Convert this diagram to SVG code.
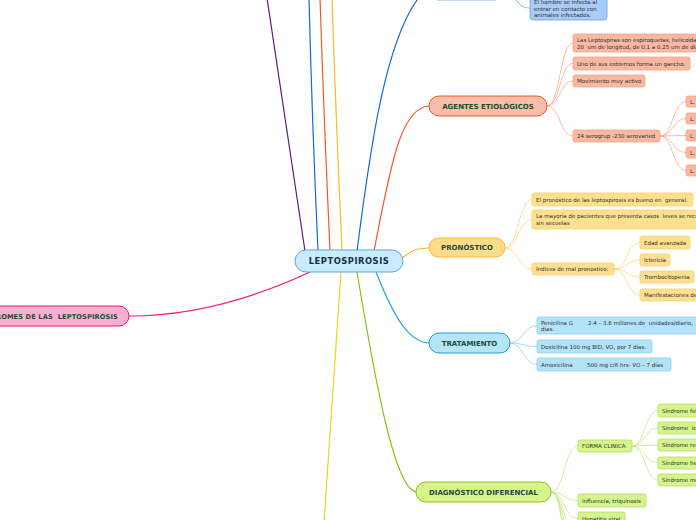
<svg xmlns="http://www.w3.org/2000/svg" width="696" height="520" viewBox="0 0 696 520">
<style>
text{font-family:"DejaVu Sans","Liberation Sans",sans-serif;white-space:pre}
.t{font-size:5.5px;fill:#2e2e2e}
.h{font-size:7px;font-weight:bold;fill:#1d4a33}
.c path{fill:none;stroke-width:1.2}
.s path{fill:none;stroke-width:0.8}
.r{fill:#f8b9a2;stroke:#f7a283;stroke-width:0.8}
.y{fill:#fde08f;stroke:#fccf70;stroke-width:0.8}
.b{fill:#b3e3f8;stroke:#8ed2f1;stroke-width:0.8}
.g{fill:#d4f48c;stroke:#b7de5e;stroke-width:0.8}
.bb{fill:#a9cbf7;stroke:#6d9fea;stroke-width:0.8}
</style>
<rect width="696" height="520" fill="#fff"/>
<g id="connectors">
 <g class="c">
  <path d="M305,251 Q285,120 267,-2" stroke="#5a1f7f"/>
  <path d="M318,251 Q312,120 309,-2" stroke="#1668d8"/>
  <path d="M330,251 Q324,120 320,-2" stroke="#f05a28"/>
  <path d="M342,251 Q336,120 332,-2" stroke="#fbb829"/>
  <path d="M357,251 C370,150 385,40 420,-4" stroke="#1668d8"/>
  <path d="M374,251 C390,170 400,106 430,106" stroke="#f05a28"/>
  <path d="M402,258 C412,250 418,248 430,248" stroke="#fbb829"/>
  <path d="M376,272 C395,320 410,343 430,343" stroke="#1aa3e0"/>
  <path d="M357,272 C375,380 395,492 417,492" stroke="#8bbf1a"/>
  <path d="M341,272 Q332,400 324,522" stroke="#e6d51b"/>
  <path d="M310,272 C250,300 190,316 129,316" stroke="#ee1a73"/>
  <path d="M512,-8 C518,5 522,8 530,8" stroke="#a9cbf7" stroke-width="0.8"/>
 </g>
 <g class="s">
  <g stroke="#f9ab90">
   <path d="M547,106 C560,106 560,43 573,43"/>
   <path d="M547,106 C560,106 560,63.5 573,63.5"/>
   <path d="M547,106 C560,106 560,81 573,81"/>
   <path d="M547,106 C560,106 560,136 573,136"/>
   <path d="M660,136 C673,136 673,101.5 686,101.5"/>
   <path d="M660,136 C673,136 673,118.5 686,118.5"/>
   <path d="M660,136 L686,135.5"/>
   <path d="M660,136 C673,136 673,152.5 686,152.5"/>
   <path d="M660,136 C673,136 673,170.5 686,170.5"/>
  </g>
  <g stroke="#fcd57e">
   <path d="M505,248 C518,248 519,199.5 532,199.5"/>
   <path d="M505,248 C518,248 519,219.5 532,219.5"/>
   <path d="M505,248 C518,248 519,269 532,269"/>
   <path d="M614,269 C627,269 627,242.5 640,242.5"/>
   <path d="M614,269 C627,269 627,260 640,260"/>
   <path d="M614,269 C627,269 627,277 640,277"/>
   <path d="M614,269 C627,269 627,295 640,295"/>
  </g>
  <g stroke="#8ed5f4">
   <path d="M510,343 C523,343 524,325.5 537,325.5"/>
   <path d="M510,343 C523,343 524,346.5 537,346.5"/>
   <path d="M510,343 C523,343 524,364.5 537,364.5"/>
  </g>
  <g stroke="#c6e690">
   <path d="M551,492 C565,492 564,446 578,446"/>
   <path d="M551,492 C565,492 564,500.5 578,500.5"/>
   <path d="M551,492 C565,492 564,518.5 578,518.5"/>
   <path d="M551,492 C565,492 564,536 578,536"/>
   <path d="M551,492 C565,492 564,554 578,554"/>
   <path d="M551,492 C565,492 564,572 578,572"/>
   <path d="M551,492 C565,492 564,590 578,590"/>
   <path d="M632,446 C645,446 645,410.5 658,410.5"/>
   <path d="M632,446 C645,446 645,428 658,428"/>
   <path d="M632,446 L658,445"/>
   <path d="M632,446 C645,446 645,463 658,463"/>
   <path d="M632,446 C645,446 645,480 658,480"/>
  </g>
 </g>
</g>

<g id="center">
 <rect x="295" y="250" width="108" height="22" rx="11" fill="#c8ecfb" stroke="#5aa9dd" stroke-width="1"/>
 <text x="349" y="264.2" text-anchor="middle" font-size="8.4" font-weight="bold" fill="#1b2a4a" letter-spacing="0.5">LEPTOSPIROSIS</text>
</g>

<g id="sindromes">
 <rect x="-70" y="306" width="199" height="20" rx="10" fill="#fbb0d2" stroke="#ec1a72" stroke-width="1"/>
 <text x="118" y="318.5" text-anchor="end" font-size="6.6" font-weight="bold" fill="#1d4a33" letter-spacing="0.15">SÍNDROMES DE LAS  LEPTOSPIROSIS</text>
</g>

<g id="top-boxes">
 <rect class="bb" x="435" y="-20" width="63" height="20" rx="3"/>
 <rect class="bb" x="530" y="-8" width="77" height="28" rx="3"/>
 <text class="t" x="534" y="4">El hombre se infecta al</text>
 <text class="t" x="534" y="10.5">entrar en contacto con</text>
 <text class="t" x="534" y="17">animales infectados.</text>
</g>

<g id="agentes">
 <rect x="429" y="96" width="118" height="20" rx="10" fill="#f9bda8" stroke="#f0562a" stroke-width="1"/>
 <text class="h" x="488" y="108.5" text-anchor="middle">AGENTES ETIOLÓGICOS</text>
</g>
<g id="agentes-children">
 <rect class="r" x="573" y="34" width="140" height="18" rx="2"/>
 <text class="t" x="577" y="41.5">Las Leptospiras son espiroquetas, helicoidales</text>
 <text class="t" x="577" y="48.5">20  um de longitud, de 0.1 a 0.25 um de diámetro</text>
 <rect class="r" x="573" y="57" width="117" height="13" rx="2"/>
 <text class="t" x="577" y="65.5">Uno de sus extremos forma un gancho.</text>
 <rect class="r" x="573" y="75" width="72" height="12" rx="2"/>
 <text class="t" x="577" y="83">Movimiento muy activo</text>
 <rect class="r" x="573" y="130" width="87" height="12" rx="2"/>
 <text class="t" x="577" y="138">24 serogrup -230 serovaried</text>
 <rect class="r" x="686" y="96" width="20" height="11" rx="2"/>
 <text class="t" x="690" y="103.5">L.</text>
 <rect class="r" x="686" y="113" width="20" height="11" rx="2"/>
 <text class="t" x="690" y="120.5">L.</text>
 <rect class="r" x="686" y="130" width="20" height="11" rx="2"/>
 <text class="t" x="690" y="137.5">L.</text>
 <rect class="r" x="686" y="147" width="20" height="11" rx="2"/>
 <text class="t" x="690" y="154.5">L.</text>
 <rect class="r" x="686" y="165" width="20" height="11" rx="2"/>
 <text class="t" x="690" y="172.5">L.</text>
</g>

<g id="pronostico">
 <rect x="429" y="238" width="76" height="19" rx="9.5" fill="#fedc8a" stroke="#fbb72a" stroke-width="1"/>
 <text class="h" x="467" y="250" text-anchor="middle">PRONÓSTICO</text>
</g>
<g id="pronostico-children">
 <rect class="y" x="532" y="193" width="161" height="13" rx="2"/>
 <text class="t" x="536" y="201.5">El pronóstico de las leptospirosis es bueno en  general.</text>
 <rect class="y" x="532" y="210" width="175" height="19" rx="2"/>
 <text class="t" x="536" y="218">La mayoría de pacientes que presenta casos  leves se recuperan</text>
 <text class="t" x="536" y="224.5">sin secuelas</text>
 <rect class="y" x="532" y="263" width="82" height="12" rx="2"/>
 <text class="t" x="536" y="271">Índices de mal pronostico:</text>
 <rect class="y" x="640" y="236" width="50" height="13" rx="2"/>
 <text class="t" x="644" y="244.5">Edad avanzada</text>
 <rect class="y" x="640" y="254" width="30" height="12" rx="2"/>
 <text class="t" x="644" y="262">Icterìcia</text>
 <rect class="y" x="640" y="271" width="54" height="12" rx="2"/>
 <text class="t" x="644" y="279">Trombocitopenia</text>
 <rect class="y" x="640" y="289" width="70" height="12" rx="2"/>
 <text class="t" x="644" y="297">Manifestaciones de</text>
</g>

<g id="tratamiento">
 <rect x="429" y="333" width="81" height="20" rx="10" fill="#b6e5f8" stroke="#1aa3e0" stroke-width="1"/>
 <text class="h" x="469.5" y="345.5" text-anchor="middle">TRATAMIENTO</text>
</g>
<g id="tratamiento-children">
 <rect class="b" x="537" y="317" width="170" height="17" rx="2"/>
 <text class="t" x="541" y="325"><tspan>Penicilina G</tspan><tspan x="588">2.4 – 3.6 millones de  unidades/diario,</tspan></text>
 <text class="t" x="541" y="331">días.</text>
 <rect class="b" x="537" y="340" width="115" height="13" rx="2"/>
 <text class="t" x="541" y="348.5">Doxicilina 100 mg BID, VO, por 7 días.</text>
 <rect class="b" x="537" y="358" width="134" height="13" rx="2"/>
 <text class="t" x="541" y="366.5"><tspan>Amoxicilina</tspan><tspan x="587">500 mg c/6 hrs- VO – 7 días</tspan></text>
</g>

<g id="diagnostico">
 <rect x="416" y="482" width="135" height="20" rx="10" fill="#d6f48a" stroke="#8bc21c" stroke-width="1"/>
 <text class="h" x="483.5" y="494.5" text-anchor="middle">DIAGNÓSTICO DIFERENCIAL</text>
</g>
<g id="diagnostico-children">
 <rect class="g" x="578" y="440" width="54" height="12" rx="2"/>
 <text class="t" x="582" y="448">FORMA CLINICA</text>
 <rect class="g" x="658" y="404" width="50" height="13" rx="2"/>
 <text class="t" x="662" y="412.5">Síndrome febril</text>
 <rect class="g" x="658" y="422" width="50" height="12" rx="2"/>
 <text class="t" x="662" y="430">Síndrome  ictérico</text>
 <rect class="g" x="658" y="439" width="50" height="12" rx="2"/>
 <text class="t" x="662" y="447">Síndrome renal</text>
 <rect class="g" x="658" y="457" width="50" height="12" rx="2"/>
 <text class="t" x="662" y="465">Síndrome hemorrágico</text>
 <rect class="g" x="658" y="474" width="50" height="12" rx="2"/>
 <text class="t" x="662" y="482">Síndrome meníngeo</text>
 <rect class="g" x="578" y="494" width="68" height="13" rx="2"/>
 <text class="t" x="582" y="502.5">influencia, triquinosis</text>
 <rect class="g" x="578" y="512" width="47" height="13" rx="2"/>
 <text class="t" x="582" y="520.5">Hepatitis viral</text>
</g>
</svg>
